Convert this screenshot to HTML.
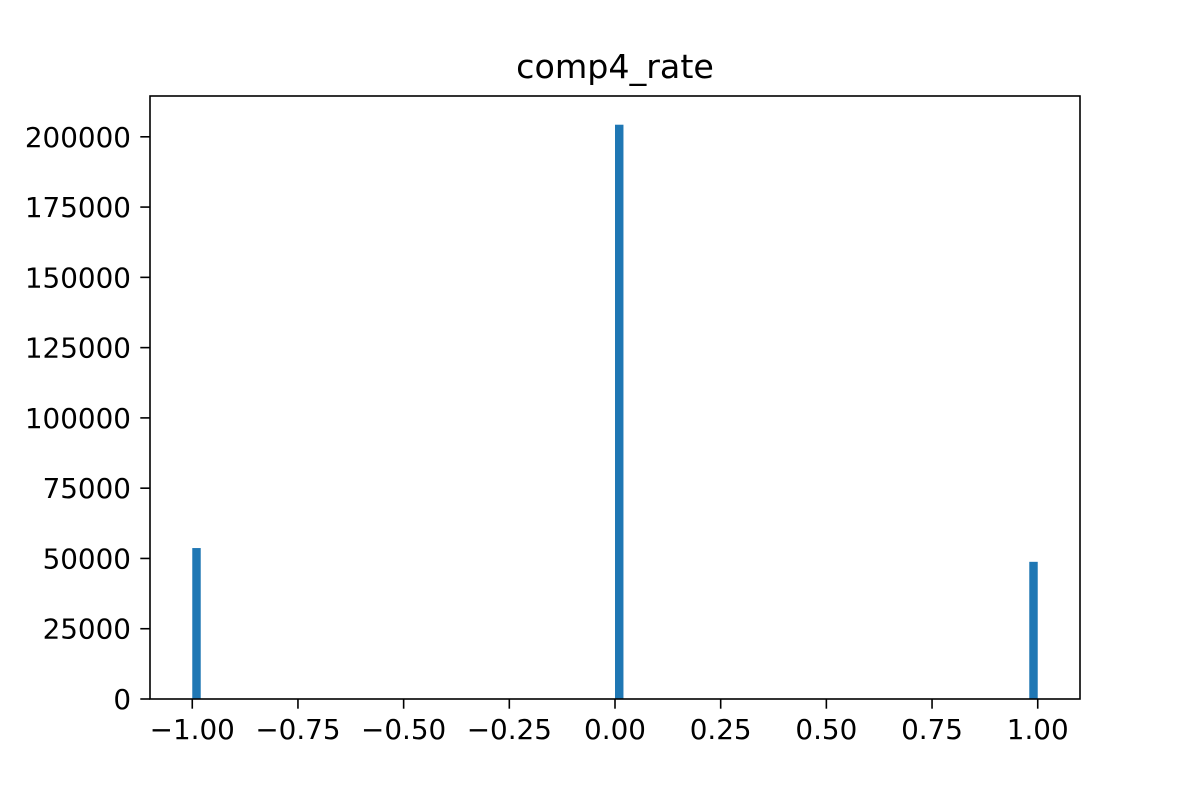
<!DOCTYPE html>
<html><head><meta charset="utf-8"><style>
body{margin:0;background:#fff}
svg text{font-family:"DejaVu Sans","Liberation Sans",sans-serif;fill:#000}
</style></head><body>
<svg id="chart" width="1200" height="800">
<text x="615" y="78" font-size="33.3" text-anchor="middle">comp4_rate</text>
<g id="bars"></g>
<g id="axes"></g>
<rect x="150" y="96" width="930" height="603" fill="none" stroke="#000" stroke-width="1.6"/>
</svg>
<script>
const binStarts = [-1.0, 0.0, 0.98];
const counts = [53700, 204300, 48800];
const binWidth = 0.02;
const xTicks = [-1, -0.75, -0.5, -0.25, 0, 0.25, 0.5, 0.75, 1];
const xTickLabels = ["\u22121.00","\u22120.75","\u22120.50","\u22120.25","0.00","0.25","0.50","0.75","1.00"];
const yTicks = [0, 25000, 50000, 75000, 100000, 125000, 150000, 175000, 200000];

const L=150,R=1080,T=96,B=699;
const xMin=-1.1,xMax=1.1;
const yMax=Math.max(...counts)*1.05;
const X=v=>L+(v-xMin)/(xMax-xMin)*(R-L);
const Y=v=>B-v/yMax*(B-T);
const NS="http://www.w3.org/2000/svg";
const bars=document.getElementById('bars'), axes=document.getElementById('axes');
function mk(tag,attrs,parent){const e=document.createElementNS(NS,tag);for(const k in attrs)e.setAttribute(k,attrs[k]);parent.appendChild(e);return e;}
binStarts.forEach((s,i)=>{
  const r=mk('rect',{x:X(s),y:Y(counts[i]),width:X(s+binWidth)-X(s),height:B-Y(counts[i]),fill:'#1f77b4'},bars);
  
  
});
xTicks.forEach((t,i)=>{
  const l=mk('line',{x1:X(t),x2:X(t),y1:B,y2:B+9.7,stroke:'#000','stroke-width':1.6},axes);
  
  
  const tx=mk('text',{x:X(t),y:B+40,'font-size':27.8,'text-anchor':'middle'},axes);
  tx.textContent=xTickLabels[i];
  
  
});
yTicks.forEach(t=>{
  const l=mk('line',{x1:L-9.7,x2:L,y1:Y(t),y2:Y(t),stroke:'#000','stroke-width':1.6},axes);
  
  
  const tx=mk('text',{x:L-19,y:Y(t)+10,'font-size':27.8,'text-anchor':'end'},axes);
  tx.textContent=String(t);
  
  
});
</script>
</body></html>
